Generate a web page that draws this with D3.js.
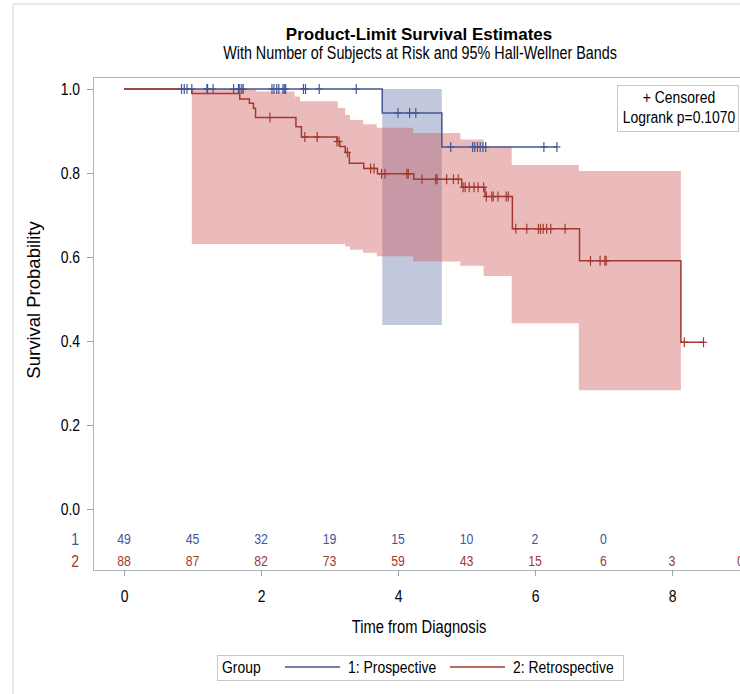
<!DOCTYPE html>
<html lang="en">
<head>
  <meta charset="UTF-8">
  <title>Product-Limit Survival Estimates</title>
  <script src="https://d3js.org/d3.v7.min.js"></script>
  <style>
    body { margin: 0; background: #fff; overflow: hidden; }
    text { font-family: "Liberation Sans", Arial, sans-serif; fill: #000; }
    .title { font-weight: bold; font-size: 17px; }
    .frame { fill: none; stroke: #b0b7bb; stroke-width: 1; }
    .tick line { stroke: #9aa2a8; }
    .km { fill: none; stroke-width: 1.5; }
  </style>
</head>
<body>
  <svg width="740" height="694"></svg>

  <script>
    // at-risk table
    const riskTimes = [0, 1, 2, 3, 4, 5, 6, 7, 8, 9];
    const riskProsp = [49, 45, 32, 19, 15, 10, 2, 0];
    const riskRetro = [88, 87, 82, 73, 59, 43, 15, 6, 3, 0];

    // group 1: prospective
    const prospTimes = [0, 3.77, 4.64, 6.32];
    const prospSurv = [1, 0.943, 0.862, 0.862];
    const prospCensor = [0.84, 0.88, 0.92, 0.99, 1.21, 1.22, 1.30, 1.60, 1.67, 1.69, 1.72, 1.74,
      2.16, 2.19, 2.23, 2.26, 2.32, 2.34, 2.36, 2.62, 2.65, 2.85, 3.39,
      4.0, 4.17, 4.26, 4.77, 5.09, 5.12, 5.16, 5.20, 5.24, 5.28, 6.13, 6.32];
    const prospBandTimes = [3.77, 4.64];
    const prospBandUpper = [1.0, 1.0];
    const prospBandLower = [0.438, 0.438];

    // group 2: retrospective
    const retroTimes = [0, 0.99, 1.69, 1.83, 1.89, 1.92, 2.51, 2.59, 3.11, 3.15, 3.23, 3.29, 3.50, 3.70,
      4.23, 4.93, 5.27, 5.67, 6.65, 8.13, 8.46];
    const retroSurv = [1, 0.989, 0.976, 0.966, 0.954, 0.932, 0.910, 0.886, 0.875, 0.863, 0.849, 0.823, 0.811, 0.798,
      0.785, 0.766, 0.744, 0.667, 0.591, 0.397, 0.397];
    const retroCensor = [2.13, 2.64, 2.82, 3.11, 3.14, 3.26, 3.60, 3.65, 3.76, 3.81, 4.13, 4.15,
      4.35, 4.55, 4.57, 4.71, 4.81, 4.88, 4.95, 4.98, 5.04, 5.11, 5.17, 5.25,
      5.29, 5.37, 5.39, 5.46, 5.58, 5.61, 5.72, 5.88, 6.05, 6.08, 6.12, 6.17, 6.23, 6.44,
      6.81, 6.95, 7.02, 7.04, 8.18, 8.46];
    const retroBandTimes = [0.99, 1.93, 2.49, 2.57, 3.12, 3.23, 3.30, 3.49, 3.69, 4.22, 4.91, 5.25, 5.66, 6.64, 8.13];
    const retroBandUpper = [1.0, 0.994, 0.982, 0.971, 0.955, 0.938, 0.926, 0.916, 0.908, 0.895, 0.880, 0.863, 0.819, 0.805, 0.805];
    const retroBandLower = [0.631, 0.631, 0.631, 0.631, 0.631, 0.625, 0.617, 0.610, 0.602, 0.589, 0.579, 0.555, 0.442, 0.283, 0.283];

    const xTicks = [0, 2, 4, 6, 8];
    const yTicks = [0, 0.2, 0.4, 0.6, 0.8, 1.0];

    const blue = "#445694", red = "#a23a2e";

    const svg = d3.select("svg");
    const plot = {left: 93, top: 77, bottom: 570, right: 760};

    const x = d3.scaleLinear().domain([0, 8]).range([124, 672]);
    const y = d3.scaleLinear().domain([0, 1]).range([509, 89]);

    // the original SAS output has a condensed look, squeeze text horizontally
    function squash(sel, k = 0.82) {
      sel.each(function () {
        const t = d3.select(this);
        const x0 = +t.attr("x") || 0, y0 = +t.attr("y") || 0;
        t.attr("x", null).attr("y", null)
          .attr("transform", `translate(${x0},${y0}) scale(${k},1)`);
      });
      return sel;
    }

    // outer border of the graph
    svg.append("line").attr("x1", 13).attr("x2", 13).attr("y1", 4).attr("y2", 694).attr("stroke", "#d4d4d4");
    svg.append("line").attr("x1", 13).attr("x2", 740).attr("y1", 4).attr("y2", 4).attr("stroke", "#d4d4d4");

    // titles
    svg.append("text").attr("class", "title").attr("x", 419).attr("y", 40)
      .attr("text-anchor", "middle").text("Product-Limit Survival Estimates");
    squash(svg.append("text").attr("x", 420).attr("y", 59).attr("text-anchor", "middle")
      .style("font-size", "17.5px").text("With Number of Subjects at Risk and 95% Hall-Wellner Bands"));

    // bands
    const band = d3.area().curve(d3.curveStepAfter)
      .x(d => x(d.t)).y0(d => y(d.lo)).y1(d => y(d.hi));
    const retroBand = retroBandTimes.map((t, i) => ({t, hi: retroBandUpper[i], lo: retroBandLower[i]}));
    const prospBand = prospBandTimes.map((t, i) => ({t, hi: prospBandUpper[i], lo: prospBandLower[i]}));

    svg.append("path").datum(prospBand).attr("d", band)
      .attr("fill", blue).attr("fill-opacity", 0.33);
    svg.append("path").datum(retroBand).attr("d", band)
      .attr("fill", "#d05b5b").attr("fill-opacity", 0.42);

    // survival curves
    const line = d3.line().curve(d3.curveStepAfter).x(d => x(d[0])).y(d => y(d[1]));
    svg.append("path").attr("class", "km").attr("stroke", blue)
      .attr("d", line(prospTimes.map((t, i) => [t, prospSurv[i]])));
    svg.append("path").attr("class", "km").attr("stroke", red)
      .attr("d", line(retroTimes.map((t, i) => [t, retroSurv[i]])));

    // censored marks
    function survAt(times, surv, t) {
      return surv[Math.max(0, d3.bisectRight(times, t) - 1)];
    }
    function drawCensor(list, times, surv, color) {
      const g = svg.append("g").attr("stroke", color).attr("stroke-width", 1.2);
      list.forEach(t => {
        const cx = x(t), cy = y(survAt(times, surv, t));
        g.append("line").attr("x1", cx).attr("x2", cx).attr("y1", cy - 5).attr("y2", cy + 5);
        g.append("line").attr("x1", cx - 3.5).attr("x2", cx + 3.5).attr("y1", cy).attr("y2", cy);
      });
    }
    drawCensor(prospCensor, prospTimes, prospSurv, blue);
    drawCensor(retroCensor, retroTimes, retroSurv, red);

    // frame
    svg.append("rect").attr("class", "frame")
      .attr("x", plot.left + 0.5).attr("y", plot.top + 0.5)
      .attr("width", plot.right - plot.left).attr("height", plot.bottom - plot.top);

    // axes
    const yAxis = svg.append("g").attr("transform", `translate(${plot.left},0)`)
      .call(d3.axisLeft(y).tickValues(yTicks).tickFormat(d3.format(".1f")).tickSize(6).tickPadding(7));
    yAxis.select(".domain").remove();
    squash(yAxis.selectAll("text").style("font-size", "17px").attr("fill", "#000"));

    const xAxis = svg.append("g").attr("transform", `translate(0,${plot.bottom})`)
      .call(d3.axisBottom(x).tickValues(xTicks).tickFormat(d3.format("d")).tickSize(6).tickPadding(14));
    xAxis.select(".domain").remove();
    squash(xAxis.selectAll("text").style("font-size", "17px").attr("fill", "#000"));

    squash(svg.append("text").attr("x", 419).attr("y", 633).attr("text-anchor", "middle")
      .style("font-size", "18px").text("Time from Diagnosis"));
    svg.append("text").attr("transform", "translate(40,300) rotate(-90)").attr("text-anchor", "middle")
      .style("font-size", "18.5px").text("Survival Probability");

    // at-risk rows
    squash(svg.append("text").attr("x", 79).attr("y", 545).attr("text-anchor", "end")
      .style("font-size", "17px").style("fill", blue).text("1"));
    squash(svg.append("text").attr("x", 79).attr("y", 567).attr("text-anchor", "end")
      .style("font-size", "17px").style("fill", red).text("2"));

    squash(svg.selectAll(".risk1").data(riskProsp).enter().append("text")
      .attr("x", (d, i) => x(riskTimes[i])).attr("y", 544).attr("text-anchor", "middle")
      .style("font-size", "15px").style("fill", blue).text(d => d));
    squash(svg.selectAll(".risk2").data(riskRetro).enter().append("text")
      .attr("x", (d, i) => x(riskTimes[i])).attr("y", 566).attr("text-anchor", "middle")
      .style("font-size", "15px").style("fill", red).text(d => d));

    // inset legend
    svg.append("rect").attr("x", 617.5).attr("y", 85.5).attr("width", 121).attr("height", 46)
      .attr("fill", "#fff").attr("stroke", "#c8c8c8");
    squash(svg.append("text").attr("x", 679).attr("y", 103).attr("text-anchor", "middle")
      .style("font-size", "17px").text("+ Censored"));
    squash(svg.append("text").attr("x", 679).attr("y", 123).attr("text-anchor", "middle")
      .style("font-size", "17px").text("Logrank p=0.1070"));

    // group legend
    const leg = svg.append("g");
    leg.append("rect").attr("x", 217.5).attr("y", 655.5).attr("width", 406).attr("height", 25)
      .attr("fill", "#fff").attr("stroke", "#c8c8c8");
    squash(leg.append("text").attr("x", 222).attr("y", 673).style("font-size", "17px").text("Group"));
    leg.append("line").attr("x1", 285).attr("x2", 340).attr("y1", 667).attr("y2", 667)
      .attr("stroke", blue).attr("stroke-width", 1.5);
    squash(leg.append("text").attr("x", 348).attr("y", 673).style("font-size", "17px").text("1: Prospective"));
    leg.append("line").attr("x1", 450).attr("x2", 505).attr("y1", 667).attr("y2", 667)
      .attr("stroke", red).attr("stroke-width", 1.5);
    squash(leg.append("text").attr("x", 513).attr("y", 673).style("font-size", "17px").text("2: Retrospective"));
  </script>
</body>
</html>
